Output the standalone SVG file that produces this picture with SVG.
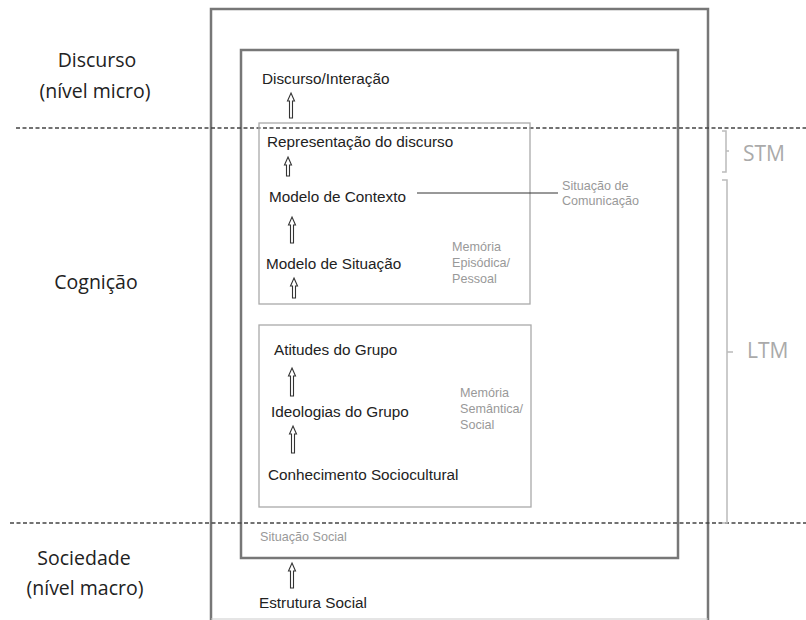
<svg xmlns="http://www.w3.org/2000/svg" width="806" height="620" viewBox="0 0 806 620">
<style>
.frame{fill:none;stroke:#777;stroke-width:2.5}
.box{fill:none;stroke:#aaa;stroke-width:1.3}
.dash{stroke:#444;stroke-width:1.3;stroke-dasharray:4 2.5}
.arr{fill:#fff;stroke:#333;stroke-width:1.1}
.t{font-family:"Liberation Sans",Arial,sans-serif;font-size:15.3px;fill:#222}
.g{font-family:"Liberation Sans",Arial,sans-serif;font-size:12.6px;fill:#999}
.big{font-family:"Open Sans","Noto Sans",sans-serif;font-size:19.5px;fill:#222;text-anchor:middle}
.mem{font-family:"Open Sans","Noto Sans",sans-serif;font-size:21px;fill:#aaa}
.brace{fill:none;stroke:#bbb;stroke-width:1.5}
</style>
<rect width="806" height="620" fill="#fff"/>
<g id="frames">
<path class="frame" d="M211,620 V9 H708 V620"/>
<line x1="211" y1="619" x2="708" y2="619" stroke="#ccc" stroke-width="1.2"/>
<rect class="frame" x="241" y="50" width="437" height="508"/>
</g>
<g id="levels">
<line class="dash" x1="16" y1="128" x2="806" y2="128"/>
<line class="dash" x1="10" y1="523" x2="806" y2="523"/>
<text class="big" x="97" y="67">Discurso</text>
<text class="big" x="95" y="98">(nível micro)</text>
<text class="big" x="96" y="289">Cognição</text>
<text class="big" x="84" y="565">Sociedade</text>
<text class="big" x="85" y="595">(nível macro)</text>
</g>
<g id="memory">
<path class="brace" d="M722,131 H726 V172 H722 M726,151 H729"/>
<text class="mem" x="743" y="161">STM</text>
<path class="brace" d="M722,180 H727 V523 H722 M727,352 H733"/>
<text class="mem" x="747" y="358">LTM</text>
</g>
<g id="episodic">
<rect class="box" x="259" y="123" width="271" height="181"/>
<text class="g" x="452" y="251">Memória</text>
<text class="g" x="452" y="267">Episódica/</text>
<text class="g" x="452" y="283">Pessoal</text>
</g>
<g id="semantic">
<rect class="box" x="259" y="325" width="272" height="182"/>
<text class="g" x="460" y="397">Memória</text>
<text class="g" x="460" y="413">Semântica/</text>
<text class="g" x="460" y="429">Social</text>
</g>
<g id="n-discurso"><text class="t" x="262" y="84">Discurso/Interação</text></g>
<g id="n-repr"><text class="t" x="267" y="147">Representação do discurso</text></g>
<g id="n-contexto"><text class="t" x="269" y="202">Modelo de Contexto</text></g>
<g id="n-comunicacao"><text class="g" x="562" y="190">Situação de</text><text class="g" x="562" y="205">Comunicação</text></g>
<g id="n-situacao"><text class="t" x="266" y="269">Modelo de Situação</text></g>
<g id="n-atitudes"><text class="t" x="274" y="355">Atitudes do Grupo</text></g>
<g id="n-ideologias"><text class="t" x="271" y="417">Ideologias do Grupo</text></g>
<g id="n-conhecimento"><text class="t" x="268" y="480">Conhecimento Sociocultural</text></g>
<g id="n-sitsocial"><text class="g" x="260" y="541">Situação Social</text></g>
<g id="n-estrutura"><text class="t" x="259" y="608">Estrutura Social</text></g>
<g id="connectors">
<line x1="417" y1="193" x2="558" y2="193" stroke="#333" stroke-width="1"/>
<path class="arr" d="M291,93 L294.5,101 L292.5,101 L292.5,118 L289.5,118 L289.5,101 L287.5,101 Z"/>
<path class="arr" d="M288,157 L291.5,165 L289.5,165 L289.5,176 L286.5,176 L286.5,165 L284.5,165 Z"/>
<path class="arr" d="M292,217 L295.5,225 L293.5,225 L293.5,243 L290.5,243 L290.5,225 L288.5,225 Z"/>
<path class="arr" d="M294,278 L297.5,286 L295.5,286 L295.5,298 L292.5,298 L292.5,286 L290.5,286 Z"/>
<path class="arr" d="M292,368 L295.5,376 L293.5,376 L293.5,396 L290.5,396 L290.5,376 L288.5,376 Z"/>
<path class="arr" d="M293,426 L296.5,434 L294.5,434 L294.5,453 L291.5,453 L291.5,434 L289.5,434 Z"/>
<path class="arr" d="M292,563 L295.5,571 L293.5,571 L293.5,588 L290.5,588 L290.5,571 L288.5,571 Z"/>
</g>
</svg>
